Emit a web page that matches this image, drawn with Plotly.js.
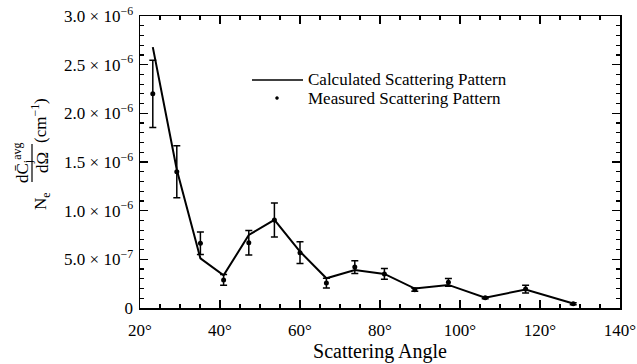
<!DOCTYPE html>
<html>
<head>
<meta charset="utf-8">
<script src="https://cdn.plot.ly/plotly-3.0.1.min.js"></script>
<style>
  html, body { margin: 0; padding: 0; background: #fff; }
  #chart { width: 637px; height: 364px; }
</style>
</head>
<body>
<div id="chart"></div>
<script>
// Scattering angle (degrees) of each measurement
const angles = [23.2, 29.2, 35.1, 40.9, 47.2, 53.6, 60.0, 66.6, 73.7, 81.1, 88.7, 97.1, 106.3, 116.4, 128.3];

// Calculated scattering pattern (cm^-1)
const calculated = [2.68e-6, 1.42e-6, 0.51e-6, 0.335e-6, 0.75e-6, 0.905e-6, 0.58e-6, 0.305e-6,
                    0.39e-6, 0.35e-6, 0.20e-6, 0.237e-6, 0.106e-6, 0.19e-6, 0.046e-6];

// Measured scattering pattern (cm^-1) and its uncertainty
const measured = [2.20e-6, 1.40e-6, 0.665e-6, 0.288e-6, 0.67e-6, 0.905e-6, 0.568e-6, 0.256e-6,
                  0.42e-6, 0.35e-6, 0.188e-6, 0.264e-6, 0.106e-6, 0.195e-6, 0.044e-6];
const measuredErr = [0.345e-6, 0.267e-6, 0.115e-6, 0.055e-6, 0.125e-6, 0.175e-6, 0.112e-6, 0.05e-6,
                     0.065e-6, 0.055e-6, 0.015e-6, 0.04e-6, 0.01e-6, 0.04e-6, 0.01e-6];

// Axis ticks
const xTickVals = [20, 40, 60, 80, 100, 120, 140];
const xTickText = ['20°', '40°', '60°', '80°', '100°', '120°', '140°'];
const yTickVals = [0, 0.5e-6, 1.0e-6, 1.5e-6, 2.0e-6, 2.5e-6, 3.0e-6];
const yTickText = ['0', '5.0 × 10<sup>−7</sup>', '1.0 × 10<sup>−6</sup>', '1.5 × 10<sup>−6</sup>',
                   '2.0 × 10<sup>−6</sup>', '2.5 × 10<sup>−6</sup>', '3.0 × 10<sup>−6</sup>'];

const legendLabels = ['Calculated Scattering Pattern', 'Measured Scattering Pattern'];

const serif = 'Liberation Serif, Times New Roman, serif';

const traces = [
  {
    x: angles, y: calculated, type: 'scatter', mode: 'lines',
    line: { color: '#000', width: 2 },
    showlegend: false, hoverinfo: 'skip'
  },
  {
    x: angles, y: measured, type: 'scatter', mode: 'markers',
    marker: { color: '#000', size: 5 },
    error_y: { type: 'data', array: measuredErr, visible: true, color: '#000', thickness: 1.5, width: 3.5 },
    showlegend: false, hoverinfo: 'skip'
  }
];

// paper-coordinate helper for the label block on the left and the legend
const W = 480, H = 292, L = 140, T = 16;
const px = v => (v - L) / W;
const py = v => (T + H - v) / H;

const axisCommon = {
  showline: true, linecolor: '#000', linewidth: 1.5, mirror: 'ticks',
  ticks: 'inside', tickcolor: '#000', tickwidth: 1.2, ticklen: 8,
  showgrid: false, zeroline: false,
  tickfont: { family: serif, size: 17, color: '#000' },
  tickmode: 'array'
};

const layout = {
  width: 637, height: 364,
  margin: { l: L, r: 637 - L - W, t: T, b: 364 - T - H },
  paper_bgcolor: '#fff', plot_bgcolor: '#fff',
  font: { family: serif, color: '#000' },
  xaxis: Object.assign({}, axisCommon, {
    range: [20, 140], tickvals: xTickVals, ticktext: xTickText,
    ticklabelstandoff: 6,
    minor: { dtick: 5, ticks: 'inside', ticklen: 4, tickcolor: '#000', tickwidth: 1.2 },
    title: { text: 'Scattering Angle', font: { family: serif, size: 20, color: '#000' }, standoff: 4 }
  }),
  yaxis: Object.assign({}, axisCommon, {
    range: [0, 3.0e-6], tickvals: yTickVals, ticktext: yTickText,
    ticklabelstandoff: 2,
    minor: { dtick: 1e-7, ticks: 'inside', ticklen: 4, tickcolor: '#000', tickwidth: 1.2 }
  }),
  shapes: [
    // fraction bar of the y-axis label
    { type: 'line', xref: 'paper', yref: 'paper', x0: px(32), x1: px(32), y0: py(182), y1: py(144),
      line: { color: '#000', width: 1.2 } },
    // legend line sample
    { type: 'line', xref: 'paper', yref: 'paper', x0: px(252), x1: px(303), y0: py(80), y1: py(80),
      line: { color: '#000', width: 1.5 } },
    // legend dot sample
    { type: 'circle', xref: 'paper', yref: 'paper', x0: px(275.5), x1: px(278.5), y0: py(99.5), y1: py(96.5),
      fillcolor: '#000', line: { color: '#000', width: 0.5 } }
  ],
  annotations: [
    { text: 'N<sub>e</sub>', xref: 'paper', yref: 'paper', x: px(42), y: py(201), textangle: -90,
      showarrow: false, xanchor: 'center', yanchor: 'middle', font: { family: serif, size: 17 } },
    { text: 'dC̄<sub>j</sub><sup>avg</sup>', xref: 'paper', yref: 'paper', x: px(22), y: py(163), textangle: -90,
      showarrow: false, xanchor: 'center', yanchor: 'middle', font: { family: serif, size: 17 } },
    { text: 'dΩ', xref: 'paper', yref: 'paper', x: px(42), y: py(163), textangle: -90,
      showarrow: false, xanchor: 'center', yanchor: 'middle', font: { family: serif, size: 17 } },
    { text: '(cm<sup>−1</sup>)', xref: 'paper', yref: 'paper', x: px(39), y: py(121), textangle: -90,
      showarrow: false, xanchor: 'center', yanchor: 'middle', font: { family: serif, size: 17 } },
    { text: legendLabels[0], xref: 'paper', yref: 'paper', x: px(307), y: py(79), borderpad: 0,
      showarrow: false, xanchor: 'left', yanchor: 'middle', font: { family: serif, size: 17 } },
    { text: legendLabels[1], xref: 'paper', yref: 'paper', x: px(307), y: py(98), borderpad: 0,
      showarrow: false, xanchor: 'left', yanchor: 'middle', font: { family: serif, size: 17 } }
  ]
};

Plotly.newPlot('chart', traces, layout, { staticPlot: true, displayModeBar: false });
</script>
</body>
</html>
